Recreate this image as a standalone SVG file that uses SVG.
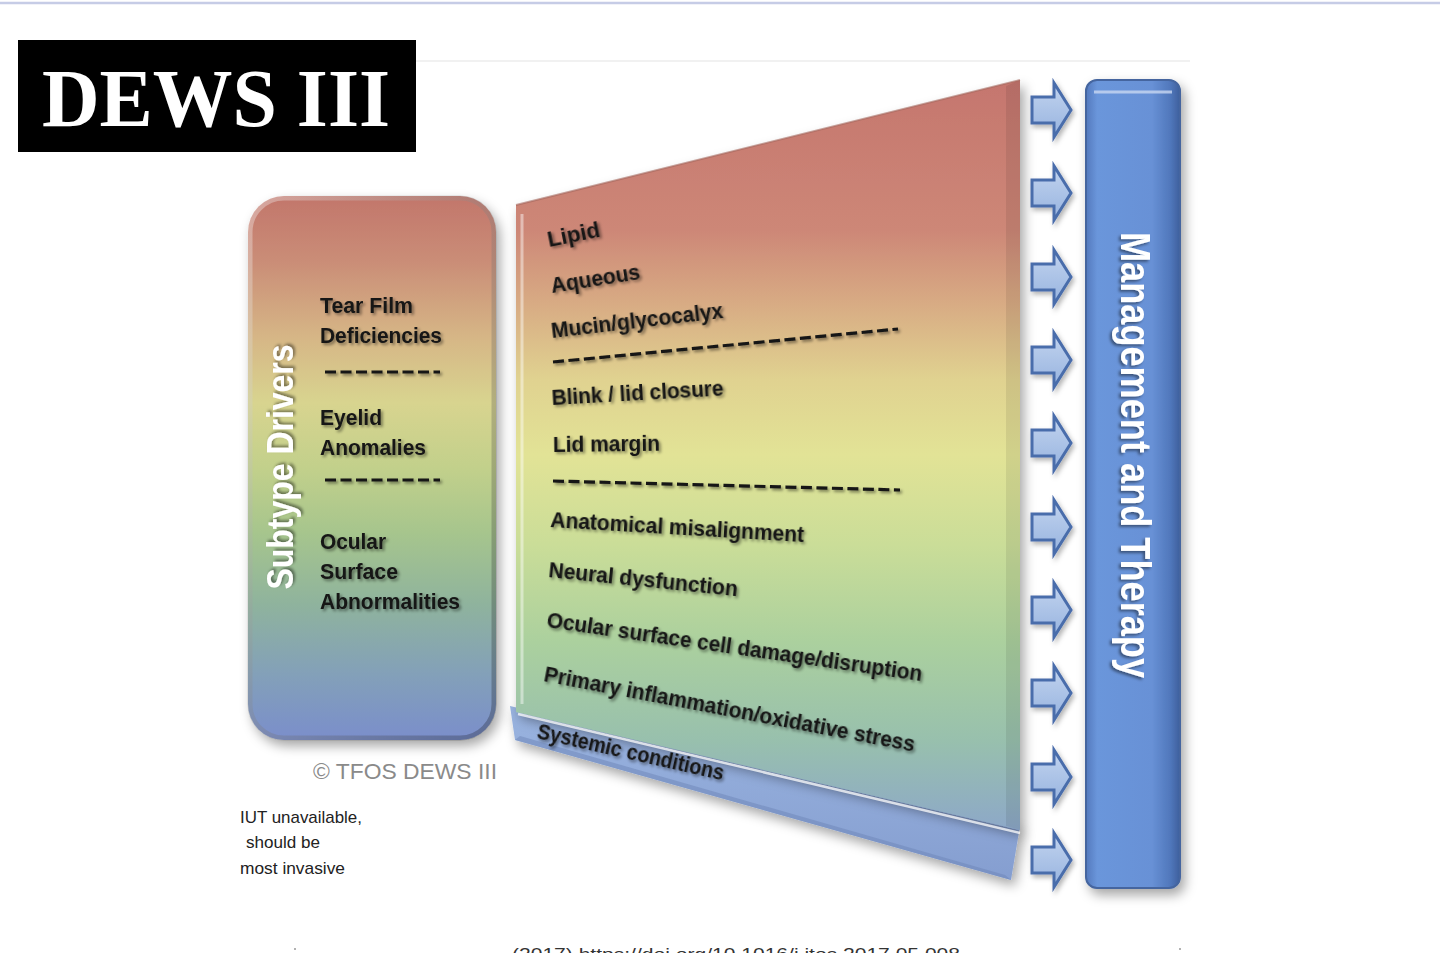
<svg xmlns="http://www.w3.org/2000/svg" xmlns:xlink="http://www.w3.org/1999/xlink" width="1440" height="953" viewBox="0 0 1440 953">
  <style>
    .lbl { font-family: "Liberation Sans", Arial, sans-serif; font-weight: bold; font-size: 22px; fill: #141414; filter: url(#tshadow); }
    .white { font-family: "Liberation Sans", Arial, sans-serif; font-weight: bold; fill: #ffffff; filter: url(#tshadow); }
    .note { font-family: "Liberation Sans", Arial, sans-serif; font-size: 17px; fill: #222; }
    .dash { stroke: #151515; stroke-width: 3.2; stroke-dasharray: 11 4.5; fill: none; filter: url(#dshadow); }
    .arrow { fill: url(#arrowGrad); stroke: #4a6dab; stroke-width: 3; stroke-linejoin: miter; filter: url(#soft); }
  </style>
  <defs>
    <linearGradient id="leftGrad" gradientUnits="userSpaceOnUse" x1="0" y1="196" x2="0" y2="740">
      <stop offset="0" stop-color="#c2766b"/>
      <stop offset="0.12" stop-color="#ca8d77"/>
      <stop offset="0.26" stop-color="#d6b686"/>
      <stop offset="0.38" stop-color="#d8d48f"/>
      <stop offset="0.5" stop-color="#c2d08b"/>
      <stop offset="0.62" stop-color="#a6c58d"/>
      <stop offset="0.75" stop-color="#8fb39d"/>
      <stop offset="0.88" stop-color="#83a0b9"/>
      <stop offset="1" stop-color="#7a8ecb"/>
    </linearGradient>
    <linearGradient id="faceGrad" gradientUnits="userSpaceOnUse" x1="0" y1="80" x2="0" y2="830">
      <stop offset="0" stop-color="#c5766e"/>
      <stop offset="0.2" stop-color="#cd8777"/>
      <stop offset="0.3" stop-color="#d8ac84"/>
      <stop offset="0.4" stop-color="#e0d290"/>
      <stop offset="0.5" stop-color="#e2e396"/>
      <stop offset="0.62" stop-color="#cadd98"/>
      <stop offset="0.75" stop-color="#abd09e"/>
      <stop offset="0.88" stop-color="#98c0ad"/>
      <stop offset="1" stop-color="#8da8c8"/>
    </linearGradient>
    <linearGradient id="stripGrad" x1="0" y1="0" x2="0" y2="1">
      <stop offset="0" stop-color="#9ab4e0"/>
      <stop offset="1" stop-color="#859ed0"/>
    </linearGradient>
    <linearGradient id="mgmtGrad" x1="0" y1="0" x2="1" y2="0">
      <stop offset="0" stop-color="#5479bd"/>
      <stop offset="0.12" stop-color="#6a96db"/>
      <stop offset="0.7" stop-color="#6891d6"/>
      <stop offset="0.9" stop-color="#5077bb"/>
      <stop offset="1" stop-color="#3e5f9c"/>
    </linearGradient>
    <linearGradient id="arrowGrad" x1="0" y1="0" x2="0" y2="1">
      <stop offset="0" stop-color="#c2d4ef"/>
      <stop offset="1" stop-color="#97b3df"/>
    </linearGradient>
    <linearGradient id="rimGrad" x1="0" y1="0" x2="1" y2="1">
      <stop offset="0" stop-color="#ffffff" stop-opacity="0.35"/>
      <stop offset="1" stop-color="#000000" stop-opacity="0.25"/>
    </linearGradient>
    <filter id="shadow" x="-20%" y="-20%" width="140%" height="140%">
      <feDropShadow dx="4" dy="6" stdDeviation="6" flood-color="#000" flood-opacity="0.35"/>
    </filter>
    <filter id="soft" x="-30%" y="-30%" width="160%" height="160%">
      <feDropShadow dx="2" dy="3" stdDeviation="2.5" flood-color="#000" flood-opacity="0.3"/>
    </filter>
    <filter id="tshadow" x="-10%" y="-30%" width="120%" height="160%">
      <feGaussianBlur in="SourceGraphic" stdDeviation="0.4" result="b"/>
      <feDropShadow in="b" dx="2" dy="2" stdDeviation="1.6" flood-color="#000" flood-opacity="0.45"/>
    </filter>
    <filter id="dshadow" filterUnits="userSpaceOnUse" x="0" y="0" width="1440" height="953">
      <feGaussianBlur in="SourceGraphic" stdDeviation="0.4" result="b"/>
      <feDropShadow in="b" dx="2" dy="2" stdDeviation="1.6" flood-color="#000" flood-opacity="0.45"/>
    </filter>
    <path id="arr" d="M0,-13 H22 V-27 L39,0 L22,27 V13 H0 Z"/>
  </defs>

  <rect x="0" y="0" width="1440" height="953" fill="#ffffff"/>
  <line x1="0" y1="3" x2="1440" y2="3" stroke="#c6cce6" stroke-width="2.5"/>
  <line x1="416" y1="61" x2="1190" y2="61" stroke="#ececec" stroke-width="1.5"/>

  <g id="title">
    <rect x="18" y="40" width="398" height="112" fill="#000000"/>
    <text x="42" y="126" font-family="'Liberation Serif', 'Times New Roman', serif" font-weight="bold" font-size="82" fill="#ffffff" textLength="348" lengthAdjust="spacingAndGlyphs">DEWS III</text>
  </g>

  <g id="subtype-drivers">
    <rect x="248" y="196" width="248" height="544" rx="36" ry="36" fill="url(#leftGrad)" filter="url(#shadow)"/>
    <rect x="250" y="198" width="244" height="540" rx="34" ry="34" fill="none" stroke="url(#rimGrad)" stroke-width="5"/>
    <text class="white" font-size="36" transform="translate(293,467) rotate(-90)" text-anchor="middle" textLength="245" lengthAdjust="spacingAndGlyphs">Subtype Drivers</text>
    <text class="lbl" x="320" y="313" textLength="93" lengthAdjust="spacingAndGlyphs">Tear Film</text>
    <text class="lbl" x="320" y="343" textLength="122" lengthAdjust="spacingAndGlyphs">Deficiencies</text>
    <line class="dash" x1="325" y1="372" x2="440" y2="372"/>
    <text class="lbl" x="320" y="425" textLength="62" lengthAdjust="spacingAndGlyphs">Eyelid</text>
    <text class="lbl" x="320" y="455" textLength="106" lengthAdjust="spacingAndGlyphs">Anomalies</text>
    <line class="dash" x1="325" y1="480" x2="440" y2="480"/>
    <text class="lbl" x="320" y="549" textLength="66" lengthAdjust="spacingAndGlyphs">Ocular</text>
    <text class="lbl" x="320" y="579" textLength="78" lengthAdjust="spacingAndGlyphs">Surface</text>
    <text class="lbl" x="320" y="609" textLength="140" lengthAdjust="spacingAndGlyphs">Abnormalities</text>
  </g>

  <g id="mechanisms">
    <polygon points="510,706 1020,826 1011,880 515,740" fill="url(#stripGrad)" filter="url(#shadow)"/>
    <polygon points="515,740 1011,880 1005,875 520,736" fill="#6d86b8" opacity="0.5"/>
    <polygon points="516,205 1020,80 1020,830 516,712" fill="url(#faceGrad)" filter="url(#shadow)"/>
    <polygon points="1006,86 1020,80 1020,830 1006,826" fill="#000" opacity="0.08"/>
    <line x1="522" y1="214" x2="522" y2="704" stroke="#ffffff" stroke-width="3" opacity="0.45"/>
    <line x1="516" y1="205" x2="1020" y2="80" stroke="#a4675d" stroke-width="2" opacity="0.6"/>
    <line x1="518" y1="714" x2="1020" y2="833" stroke="#ffffff" stroke-width="2.5" opacity="0.75"/>
    <text class="lbl" transform="translate(549,247) rotate(-11.4)" textLength="53" lengthAdjust="spacingAndGlyphs">Lipid</text>
    <text class="lbl" transform="translate(552,293) rotate(-9)" textLength="90" lengthAdjust="spacingAndGlyphs">Aqueous</text>
    <text class="lbl" transform="translate(552,338) rotate(-6.7)" textLength="173" lengthAdjust="spacingAndGlyphs">Mucin/glycocalyx</text>
    <line class="dash" x1="553" y1="362" x2="898" y2="329"/>
    <text class="lbl" transform="translate(552,405) rotate(-3.2)" textLength="172" lengthAdjust="spacingAndGlyphs">Blink / lid closure</text>
    <text class="lbl" transform="translate(553,452) rotate(-0.7)" textLength="107" lengthAdjust="spacingAndGlyphs">Lid margin</text>
    <line class="dash" x1="553" y1="481" x2="900" y2="490"/>
    <text class="lbl" transform="translate(550,527) rotate(3.4)" textLength="254" lengthAdjust="spacingAndGlyphs">Anatomical misalignment</text>
    <text class="lbl" transform="translate(548,577) rotate(5.8)" textLength="190" lengthAdjust="spacingAndGlyphs">Neural dysfunction</text>
    <text class="lbl" transform="translate(546,627) rotate(8.2)" textLength="379" lengthAdjust="spacingAndGlyphs">Ocular surface cell damage/disruption</text>
    <text class="lbl" transform="translate(543,681) rotate(10.8)" textLength="377" lengthAdjust="spacingAndGlyphs">Primary inflammation/oxidative stress</text>
    <text class="lbl" transform="translate(536,738) rotate(12.8)" textLength="191" lengthAdjust="spacingAndGlyphs">Systemic conditions</text>
  </g>

  <g id="connectors">
    <use href="#arr" class="arrow" x="1032" y="110"/>
    <use href="#arr" class="arrow" x="1032" y="193"/>
    <use href="#arr" class="arrow" x="1032" y="277"/>
    <use href="#arr" class="arrow" x="1032" y="360"/>
    <use href="#arr" class="arrow" x="1032" y="443"/>
    <use href="#arr" class="arrow" x="1032" y="527"/>
    <use href="#arr" class="arrow" x="1032" y="610"/>
    <use href="#arr" class="arrow" x="1032" y="693"/>
    <use href="#arr" class="arrow" x="1032" y="777"/>
    <use href="#arr" class="arrow" x="1032" y="860"/>
  </g>

  <g id="management">
    <rect x="1086" y="80" width="94" height="808" rx="11" ry="11" fill="url(#mgmtGrad)" stroke="#44659f" stroke-width="2" filter="url(#shadow)"/>
    <line x1="1094" y1="92" x2="1172" y2="92" stroke="#c9d8f2" stroke-width="3" opacity="0.8"/>
    <text class="white" font-size="42" transform="translate(1121,455) rotate(90)" text-anchor="middle" textLength="446" lengthAdjust="spacingAndGlyphs">Management and Therapy</text>
  </g>

  <g id="credits">
    <text x="313" y="779" font-family="'Liberation Sans', Arial, sans-serif" font-size="22" fill="#8a8a8a" textLength="184" lengthAdjust="spacingAndGlyphs">© TFOS DEWS III</text>
    <text class="note" x="240" y="823" textLength="122" lengthAdjust="spacingAndGlyphs">IUT unavailable,</text>
    <text class="note" x="246" y="848" textLength="74" lengthAdjust="spacingAndGlyphs">should be</text>
    <text class="note" x="240" y="874" textLength="105" lengthAdjust="spacingAndGlyphs">most invasive</text>
    <text x="512" y="960" font-family="'Liberation Sans', Arial, sans-serif" font-size="16" fill="#333" textLength="448" lengthAdjust="spacingAndGlyphs">(2017) https://doi.org/10.1016/j.jtos.2017.05.008</text>
    <circle cx="295" cy="949" r="1" fill="#999"/>
    <circle cx="1180" cy="949" r="1" fill="#999"/>
  </g>
</svg>
